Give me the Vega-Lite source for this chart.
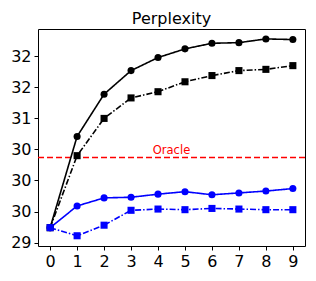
{
  "$schema": "https://vega.github.io/schema/vega-lite/v6.json",
  "autosize": "none",
  "width": 267,
  "height": 217,
  "padding": {"left": 38, "top": 29, "right": 11, "bottom": 35},
  "background": "white",
  "config": {
    "view": {"stroke": "black", "strokeWidth": 1},
    "font": "DejaVu Sans",
    "axis": {"grid": false, "domain": false, "tickColor": "black", "tickSize": 4, "tickWidth": 1, "labelColor": "black", "labelFont": "DejaVu Sans", "labelFontSize": 16, "labelPadding": 3, "title": null}
  },
  "title": {"text": "Perplexity", "fontSize": 16, "font": "DejaVu Sans", "fontWeight": "normal", "color": "black", "offset": 2},
  "datasets": {
    "series": [
      {"step": 0, "ppl": 29.24, "run": "A"}, {"step": 1, "ppl": 30.71, "run": "A"}, {"step": 2, "ppl": 31.39, "run": "A"}, {"step": 3, "ppl": 31.77, "run": "A"}, {"step": 4, "ppl": 31.98, "run": "A"}, {"step": 5, "ppl": 32.12, "run": "A"}, {"step": 6, "ppl": 32.21, "run": "A"}, {"step": 7, "ppl": 32.22, "run": "A"}, {"step": 8, "ppl": 32.28, "run": "A"}, {"step": 9, "ppl": 32.27, "run": "A"},
      {"step": 0, "ppl": 29.24, "run": "B"}, {"step": 1, "ppl": 30.40, "run": "B"}, {"step": 2, "ppl": 31.00, "run": "B"}, {"step": 3, "ppl": 31.33, "run": "B"}, {"step": 4, "ppl": 31.43, "run": "B"}, {"step": 5, "ppl": 31.59, "run": "B"}, {"step": 6, "ppl": 31.69, "run": "B"}, {"step": 7, "ppl": 31.77, "run": "B"}, {"step": 8, "ppl": 31.79, "run": "B"}, {"step": 9, "ppl": 31.85, "run": "B"},
      {"step": 0, "ppl": 29.24, "run": "C"}, {"step": 1, "ppl": 29.59, "run": "C"}, {"step": 2, "ppl": 29.72, "run": "C"}, {"step": 3, "ppl": 29.73, "run": "C"}, {"step": 4, "ppl": 29.78, "run": "C"}, {"step": 5, "ppl": 29.82, "run": "C"}, {"step": 6, "ppl": 29.77, "run": "C"}, {"step": 7, "ppl": 29.80, "run": "C"}, {"step": 8, "ppl": 29.83, "run": "C"}, {"step": 9, "ppl": 29.87, "run": "C"},
      {"step": 0, "ppl": 29.24, "run": "D"}, {"step": 1, "ppl": 29.11, "run": "D"}, {"step": 2, "ppl": 29.28, "run": "D"}, {"step": 3, "ppl": 29.52, "run": "D"}, {"step": 4, "ppl": 29.54, "run": "D"}, {"step": 5, "ppl": 29.53, "run": "D"}, {"step": 6, "ppl": 29.55, "run": "D"}, {"step": 7, "ppl": 29.54, "run": "D"}, {"step": 8, "ppl": 29.53, "run": "D"}, {"step": 9, "ppl": 29.53, "run": "D"}
    ],
    "oracle": [{"ppl": 30.37, "label": "Oracle", "step": 4.5}]
  },
  "encoding": {
    "x": {"field": "step", "type": "quantitative", "scale": {"domain": [-0.45, 9.45], "nice": false, "zero": false}, "axis": {"values": [0,1,2,3,4,5,6,7,8,9], "format": "d"}},
    "y": {"field": "ppl", "type": "quantitative", "scale": {"domain": [28.945, 32.44], "nice": false, "zero": false}, "axis": {"values": [29, 29.5, 30, 30.5, 31, 31.5, 32], "labelExpr": "datum.value == 30.5 ? '30' : format(datum.value, '.0f')"}}
  },
  "layer": [
    {
      "data": {"name": "oracle"},
      "mark": {"type": "rule", "color": "red", "strokeDash": [6, 3], "strokeWidth": 1.6},
      "encoding": {"y": {"field": "ppl", "type": "quantitative"}, "x": null}
    },
    {
      "data": {"name": "oracle"},
      "mark": {"type": "text", "color": "red", "fontSize": 11.5, "font": "DejaVu Sans", "dy": -7, "align": "center"},
      "encoding": {"text": {"field": "label"}}
    },
    {
      "data": {"name": "series"},
      "mark": {"type": "line", "strokeWidth": 1.6},
      "encoding": {
        "detail": {"field": "run"},
        "color": {"field": "run", "type": "nominal", "scale": {"domain": ["A","B","C","D"], "range": ["black","black","blue","blue"]}, "legend": null},
        "strokeDash": {"field": "run", "type": "nominal", "scale": {"domain": ["A","B","C","D"], "range": [[1,0],[6,2,1.5,2],[1,0],[6,2,1.5,2]]}, "legend": null}
      }
    },
    {
      "data": {"name": "series"},
      "mark": {"type": "point", "filled": true, "opacity": 1, "size": 50},
      "encoding": {
        "color": {"field": "run", "type": "nominal", "scale": {"domain": ["A","B","C","D"], "range": ["black","black","blue","blue"]}, "legend": null},
        "shape": {"field": "run", "type": "nominal", "scale": {"domain": ["A","B","C","D"], "range": ["circle","square","circle","square"]}, "legend": null}
      }
    }
  ]
}
